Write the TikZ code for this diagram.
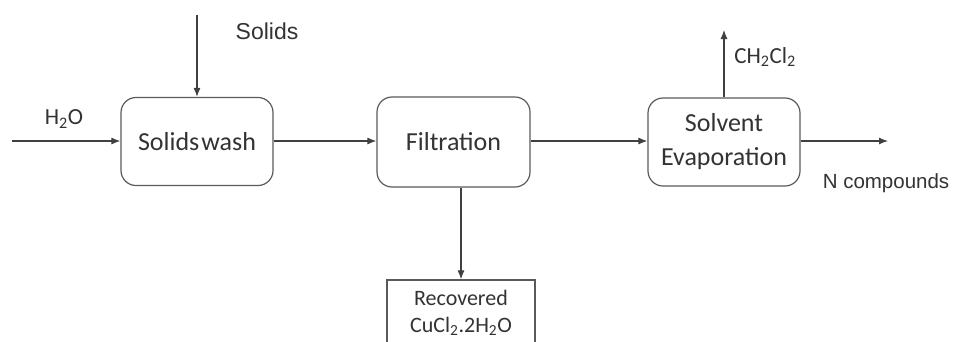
\documentclass[tikz,border=0pt]{standalone}
\usepackage{fontspec}
\setmainfont{Carlito}
\newfontfamily\arialfont{Liberation Sans}
\usetikzlibrary{arrows.meta,positioning}
\definecolor{linegray}{HTML}{404040}
\definecolor{boxgray}{HTML}{5A5A5A}
\definecolor{textgray}{HTML}{333333}
\tikzset{
  unitbox/.style={draw=boxgray,line width=1.2pt,rounded corners=15pt,align=center,
    text=textgray,font=\fontsize{26}{34}\selectfont,inner sep=0pt},
  prodbox/.style={draw=boxgray,line width=1.2pt,align=center,text=textgray,
    font=\fontsize{22}{27}\selectfont,inner sep=0pt},
  flow/.style={draw=linegray,line width=1.1pt,-{Latex[length=9pt,width=7pt]}},
  streamlabel/.style={text=textgray,font=\fontsize{23}{27}\selectfont,inner sep=0pt},
}
\begin{document}
\begin{tikzpicture}[x=1pt,y=-1pt]
\useasboundingbox[fill=white] (0,0) rectangle (955,341);
\clip (0,0) rectangle (955,341);
%Einheiten
\node[unitbox,minimum width=152pt,minimum height=88pt] (wash) at (197,141.5) {Solids\hspace{2pt}wash};
\node[unitbox,minimum width=153pt,minimum height=90pt] (filt) at (453.5,142) {Filtration};
\node[unitbox,minimum width=152pt,minimum height=88pt] (evap) at (724,142) {Solvent\\Evaporation};
\node[prodbox,minimum width=148pt,minimum height=66pt] (recov) at (461,313) {Recovered\\CuCl\textsubscript{2}.2H\textsubscript{2}O};
%freie Enden
\coordinate (h2oin) at (12,141);
\coordinate (solin) at (197,15);
\coordinate (dcmout) at (724,30);
\coordinate (nout) at (888,141);
%Stroeme
\draw[flow] (h2oin) -- (wash.west |- h2oin);
\draw[flow] (solin) -- (wash.north);
\draw[flow] (wash.east |- h2oin) -- (filt.west |- h2oin);
\draw[flow] (filt.east |- h2oin) -- (evap.west |- h2oin);
\draw[flow] (recov.north |- filt.south) -- (recov.north);
\draw[flow] (evap.north) -- (dcmout);
\draw[flow] (evap.east |- h2oin) -- (nout);
%Beschriftungen
\node[streamlabel] (h2olab) at (64,119) {H\textsubscript{2}O};
\node[streamlabel,font=\arialfont\fontsize{23}{27}\selectfont] (sollab) at (267,31) {Solids};
\node[streamlabel] (dcmlab) at (765,57) {CH\textsubscript{2}Cl\textsubscript{2}};
\node[streamlabel,font=\arialfont\fontsize{20.5}{25}\selectfont] (nlab) at (886,183) {N compounds};
\end{tikzpicture}
\end{document}
